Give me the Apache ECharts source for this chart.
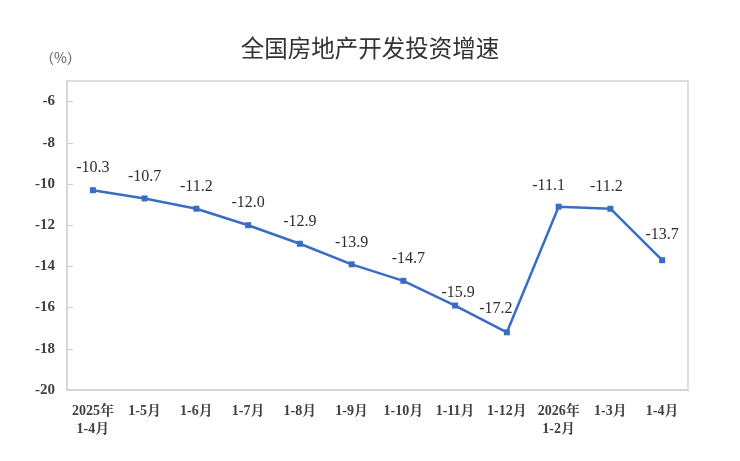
<!DOCTYPE html>
<html><head><meta charset="utf-8">
<script src="https://cdn.jsdelivr.net/npm/echarts@6/dist/echarts.min.js"></script>
<style>html,body{margin:0;padding:0;background:#fff}#c{width:740px;height:461px}</style>
</head><body><div id="c"></div>
<script>
var categories = ['2025年\n1-4月','1-5月','1-6月','1-7月','1-8月','1-9月','1-10月','1-11月','1-12月','2026年\n1-2月','1-3月','1-4月'];
var values = [-10.3,-10.7,-11.2,-12.0,-12.9,-13.9,-14.7,-15.9,-17.2,-11.1,-11.2,-13.7];
var yMin = -20, yMax = -5, yStep = 2;
// label placement tweaks (styling only)
var labelOffsets = [[0,0],[0,0],[0,0],[0,0],[0,0],[0,0],[5,0],[3,9],[-11,-2],[-10,1],[-4,0],[0,-3]];

var chart = echarts.init(document.getElementById('c'));
var serif = '"Liberation Serif","Times New Roman","Noto Serif CJK SC",serif';
chart.setOption({
  animation: false,
  title: {
    text: '全国房地产开发投资增速',
    left: 'center', top: 31,
    textStyle: {fontFamily: '"Noto Sans CJK SC",sans-serif', fontSize: 23.5, fontWeight: 'normal', color: '#333'}
  },
  graphic: [{
    type: 'text', left: 40, top: 51,
    style: {text: '（%）', fontFamily: '"Noto Sans CJK SC",sans-serif', fontSize: 14, fill: '#5a5a66'}
  }],
  grid: {left: 67, right: 52, top: 81, bottom: 71, show: true, borderColor: '#d4d4d4', borderWidth: 1.5},
  xAxis: {
    type: 'category', data: categories, boundaryGap: true,
    axisLine: {lineStyle: {color: '#d4d4d4', width: 1.5}},
    axisTick: {inside: true, length: 6, alignWithLabel: false, lineStyle: {color: '#cfcfcf'}},
    axisLabel: {margin: 12, fontFamily: serif, fontWeight: 'bold', fontSize: 14, color: '#404040', lineHeight: 18, interval: 0}
  },
  yAxis: {
    type: 'value', min: yMin, max: yMax, interval: yStep,
    splitLine: {show: false},
    axisLine: {show: true, lineStyle: {color: '#d4d4d4', width: 1.5}},
    axisTick: {show: true, inside: true, length: 6, lineStyle: {color: '#cfcfcf'}},
    axisLabel: {showMaxLabel: false, margin: 12, fontFamily: serif, fontWeight: 'bold', fontSize: 15, color: '#404040'}
  },
  series: [{
    type: 'line',
    data: values.map(function(v, i){
      return {value: v, label: {offset: labelOffsets[i]}};
    }),
    symbol: 'rect', symbolSize: 6,
    lineStyle: {color: '#3a6cc6', width: 2.5},
    itemStyle: {color: '#3a6cc6'},
    label: {
      show: true, position: 'top', distance: 11,
      fontFamily: serif, fontSize: 16, color: '#2e2e2e',
      formatter: function(p){ return p.value.toFixed(1); }
    }
  }]
});
</script></body></html>
